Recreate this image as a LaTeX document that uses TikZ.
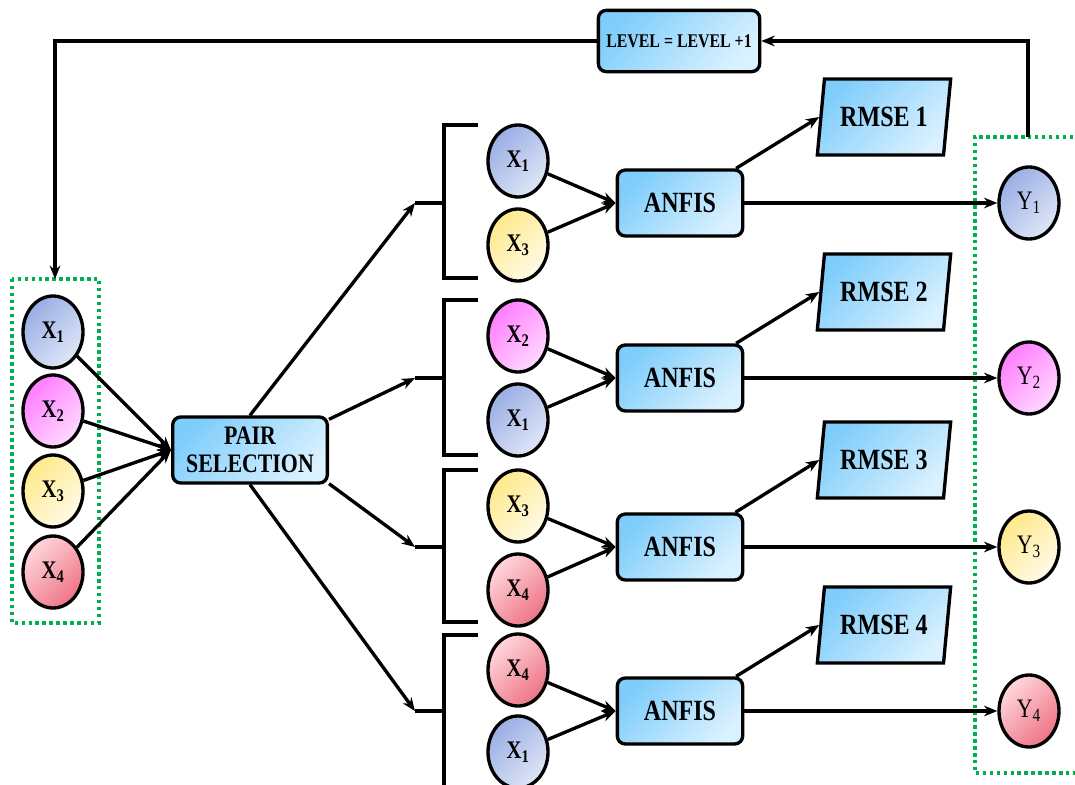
\documentclass[tikz,border=0pt]{standalone}
\usepackage{xcolor}
\usepackage{fontspec}
\setmainfont{Liberation Serif}[FakeStretch=0.82]
\usepackage{tikz}
\usetikzlibrary{arrows.meta, positioning, shapes.geometric, calc}

\definecolor{boxblue}{HTML}{7FCDFB}
\definecolor{boxlight}{HTML}{DAF1FF}
\definecolor{bluedark}{HTML}{9AAEE4}
\definecolor{bluelight}{HTML}{DFE6F7}
\definecolor{pinkdark}{HTML}{FF7DFF}
\definecolor{pinklight}{HTML}{FFD9FF}
\definecolor{yellowdark}{HTML}{FFE98A}
\definecolor{yellowlight}{HTML}{FFFBE8}
\definecolor{reddark}{HTML}{EE7385}
\definecolor{redlight}{HTML}{FFD7DC}
\definecolor{dotgreen}{HTML}{00B050}

\tikzset{
  grad/.style 2 args={top color=#1, bottom color=#2, shading angle=45},
  proc/.style={rectangle, rounded corners=6pt, draw, line width=2.5pt, grad={boxblue}{boxlight}, align=center, inner sep=2pt},
  rmse/.style={trapezium, trapezium left angle=76, trapezium right angle=104, trapezium stretches body, draw, line width=2.5pt, grad={boxblue}{boxlight}, minimum width=100pt, minimum height=57pt, font=\bfseries\fontsize{22}{24}\selectfont},
  var/.style={ellipse, draw, line width=2.5pt, minimum width=45pt, minimum height=54pt, inner sep=0pt, font=\bfseries\fontsize{19}{20}\selectfont},
  outv/.style={var, font=\fontsize{20}{21}\selectfont},
  cblue/.style={grad={bluedark}{bluelight}},
  cpink/.style={grad={pinkdark}{pinklight}},
  cyellow/.style={grad={yellowdark}{yellowlight}},
  cred/.style={grad={redlight}{reddark}},
  conn/.style={line width=2.5pt},
  arr/.style={conn, -{Stealth[length=10pt, width=8pt]}},
  dotbox/.style={dotgreen, line width=3pt, dash pattern=on 2.6pt off 2.6pt}
}

\begin{document}
\begin{tikzpicture}[x=0.75pt, y=-0.75pt]
        \useasboundingbox (0,0) rectangle (1075,785);

        % inputs
        \draw[dotbox] (12,279) rectangle (99,623);
        \coordinate (ltop) at (55,279);
        \node[var, cblue] (l1) at (53,332) {X\textsubscript{1}};
        \node[var, cpink] (l2) at (53,411) {X\textsubscript{2}};
        \node[var, cyellow] (l3) at (53,491) {X\textsubscript{3}};
        \node[var, cred] (l4) at (53,572) {X\textsubscript{4}};

        \node[proc, minimum width=116pt, minimum height=49.5pt, font=\bfseries\fontsize{20}{21}\selectfont] (pair) at (250,450) {PAIR\\SELECTION};
        \node[proc, minimum width=121pt, minimum height=46pt, font=\bfseries\fontsize{14.5}{16}\selectfont] (level) at (679,41) {LEVEL = LEVEL +1};

        \draw[arr] (l1) -- (pair.west); \draw[arr] (l2) -- (pair.west); \draw[arr] (l3) -- (pair.west); \draw[arr] (l4) -- (pair.west);

        % pairs
        \coordinate (b1) at (415,203); \coordinate (k1) at (444,203);
        \coordinate (b2) at (415,378); \coordinate (k2) at (444,378);
        \coordinate (b3) at (415,547); \coordinate (k3) at (444,547);
        \coordinate (b4) at (415,711); \coordinate (k4) at (444,711);
        \draw[arr] (pair.north) -- (b1); \draw[arr] ($(pair.north east)+(0,4)$) -- (b2);
        \draw[arr] ($(pair.south east)+(0,-1)$) -- (b3); \draw[arr] (pair.south) -- (b4);
        \draw[conn] (b1) -- (k1); \draw[conn] (b2) -- (k2); \draw[conn] (b3) -- (k3); \draw[conn] (b4) -- (k4);
        \draw[conn] (478,125) -- (444,125) -- (444,278) -- (478,278);
        \draw[conn] (478,300) -- (444,300) -- (444,455) -- (478,455);
        \draw[conn] (478,470) -- (444,470) -- (444,622) -- (478,622);
        \draw[conn] (478,635) -- (444,635) -- (444,800);

        \node[var, cblue] (p1a) at (518,161) {X\textsubscript{1}};
        \node[var, cyellow] (p1b) at (518,245) {X\textsubscript{3}};
        \node[var, cpink] (p2a) at (518,336) {X\textsubscript{2}};
        \node[var, cblue] (p2b) at (518,420) {X\textsubscript{1}};
        \node[var, cyellow] (p3a) at (518,506) {X\textsubscript{3}};
        \node[var, cred] (p3b) at (518,590) {X\textsubscript{4}};
        \node[var, cred] (p4a) at (518,670) {X\textsubscript{4}};
        \node[var, cblue] (p4b) at (518,752) {X\textsubscript{1}};

        % models
        \node[proc, minimum width=94pt, minimum height=49.5pt, font=\bfseries\fontsize{22}{24}\selectfont] (anf1) at (680,203) {ANFIS};
        \node[proc, minimum width=94pt, minimum height=49.5pt, font=\bfseries\fontsize{22}{24}\selectfont] (anf2) at (680,378) {ANFIS};
        \node[proc, minimum width=94pt, minimum height=49.5pt, font=\bfseries\fontsize{22}{24}\selectfont] (anf3) at (680,547) {ANFIS};
        \node[proc, minimum width=94pt, minimum height=49.5pt, font=\bfseries\fontsize{22}{24}\selectfont] (anf4) at (680,711) {ANFIS};

        \draw[arr] (p1a) -- (anf1.west); \draw[arr] (p1b) -- (anf1.west);
        \draw[arr] (p2a) -- (anf2.west); \draw[arr] (p2b) -- (anf2.west);
        \draw[arr] (p3a) -- (anf3.west); \draw[arr] (p3b) -- (anf3.west);
        \draw[arr] (p4a) -- (anf4.west); \draw[arr] (p4b) -- (anf4.west);

        \node[rmse] (rm1) at (884,117) {RMSE 1};
        \node[rmse] (rm2) at (884,292) {RMSE 2};
        \node[rmse] (rm3) at (884,460) {RMSE 3};
        \node[rmse] (rm4) at (884,625) {RMSE 4};

        % outputs
        \draw[dotbox] (1080,137) -- (975,137) -- (975,773) -- (1080,773);
        \coordinate (rtop) at (1028,137);
        \node[outv, cblue] (y1) at (1029,203) {Y\textsubscript{1}};
        \node[outv, cpink] (y2) at (1029,378) {Y\textsubscript{2}};
        \node[outv, cyellow] (y3) at (1029,547) {Y\textsubscript{3}};
        \node[outv, cred] (y4) at (1029,711) {Y\textsubscript{4}};

        \draw[arr] (anf1) -- (rm1.west); \draw[arr] (anf1) -- (y1);
        \draw[arr] (anf2) -- (rm2.west); \draw[arr] (anf2) -- (y2);
        \draw[arr] (anf3) -- (rm3.west); \draw[arr] (anf3) -- (y3);
        \draw[arr] (anf4) -- (rm4.west); \draw[arr] (anf4) -- (y4);

        % next level
        \draw[arr] (rtop) |- (level.east);
        \draw[arr] (level.west) -| (ltop);
    \end{tikzpicture}
\end{document}
